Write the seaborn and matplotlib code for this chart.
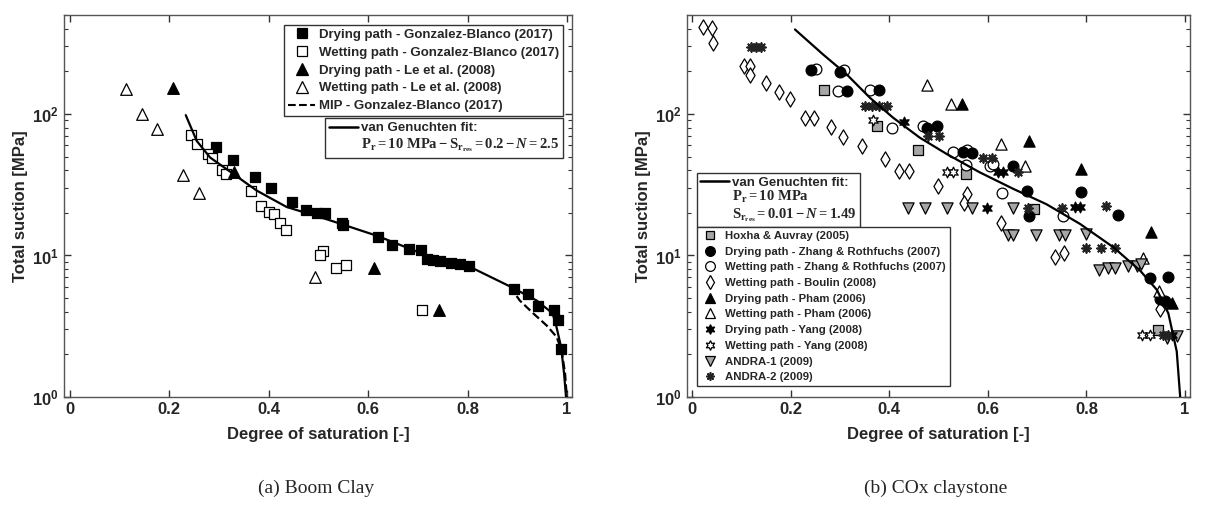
import numpy as np
import pandas as pd
import matplotlib
matplotlib.use("Agg")
import matplotlib.pyplot as plt
import matplotlib.ticker as mticker
import seaborn as sns
from matplotlib.lines import Line2D

# ---------------- (a) Boom Clay ----------------
gb_dry_sr = [0.294, 0.329, 0.372, 0.404, 0.447, 0.475, 0.498, 0.513, 0.547, 0.550, 0.620, 0.647, 0.683,
             0.706, 0.718, 0.731, 0.744, 0.767, 0.785, 0.803, 0.893, 0.921, 0.941, 0.974, 0.981, 0.988]
gb_dry_s = [58, 47, 35.6, 30, 23.7, 21.1, 20, 20, 17, 16.3, 13.5, 11.8, 11.1,
            11.0, 9.4, 9.3, 9.2, 8.9, 8.7, 8.4, 5.8, 5.3, 4.4, 4.1, 3.5, 2.2]
gb_wet_sr = [0.243, 0.255, 0.278, 0.285, 0.305, 0.314, 0.364, 0.384, 0.400, 0.411, 0.423, 0.435,
             0.510, 0.504, 0.535, 0.555, 0.709]
gb_wet_s = [70.8, 61.8, 52, 48.7, 40.3, 37.6, 28.7, 22.4, 20.3, 19.7, 17, 15.1, 10.8, 10, 8.1, 8.6, 4.1]
le_dry_sr = [0.208, 0.331, 0.612, 0.742]
le_dry_s = [153, 38.6, 8.1, 4.1]
le_wet_sr = [0.113, 0.144, 0.176, 0.227, 0.259, 0.492]
le_wet_s = [149, 99.5, 78, 37.2, 27.5, 7.0]
fit_a_sr = [0.233, 0.255, 0.282, 0.329, 0.376, 0.436, 0.517, 0.617, 0.718, 0.805, 0.885, 0.939,
            0.971, 0.979, 0.988, 0.994, 0.998]
fit_a_s = [98, 64.5, 49.2, 37.6, 28.7, 22.0, 18.0, 13.8, 10.0, 8.3, 6.05, 4.8, 3.9, 3.1, 2.26, 1.47, 1.0]
mip_sr = [0.885, 0.905, 0.932, 0.959, 0.979, 0.989, 0.996, 0.9995]
mip_s = [6.05, 4.8, 3.9, 3.2, 2.66, 2.14, 1.47, 1.0]

# ---------------- (b) COx claystone ----------------
hoxha_sr = [0.268, 0.375, 0.459, 0.555, 0.694, 0.946]
hoxha_s = [147, 81.5, 55.7, 37.6, 21.3, 2.96]
zhang_dry_sr = [0.241, 0.300, 0.314, 0.379, 0.477, 0.496, 0.549, 0.567, 0.652, 0.679, 0.684,
                0.789, 0.863, 0.929, 0.966, 0.949, 0.959]
zhang_dry_s = [204, 198, 145, 147, 79, 81.5, 54, 53, 42.6, 28.4, 19.1, 27.9, 19.4, 6.9, 7.0, 4.9, 4.8]
zhang_wet_sr = [0.252, 0.309, 0.296, 0.362, 0.405, 0.469, 0.529, 0.557, 0.556, 0.604, 0.611, 0.628, 0.753]
zhang_wet_s = [206, 203, 145, 147, 79, 82, 54, 55.5, 43.5, 42.6, 44, 27.6, 19.1]
boulin_sr = [0.023, 0.040, 0.043, 0.105, 0.118, 0.118, 0.151, 0.177, 0.199, 0.229, 0.248, 0.283,
             0.307, 0.344, 0.391, 0.420, 0.440, 0.498, 0.557, 0.551, 0.626, 0.736, 0.755, 0.949]
boulin_s = [410, 405, 318, 218, 218, 188, 166, 143, 127, 94, 94, 81,
            69, 59, 48, 39.7, 39.7, 30.8, 27.2, 23.5, 16.9, 9.7, 10.4, 4.2]
pham_dry_sr = [0.547, 0.684, 0.789, 0.930, 0.974]
pham_dry_s = [117, 64.5, 40.8, 14.6, 4.6]
pham_wet_sr = [0.477, 0.525, 0.627, 0.675, 0.914, 0.948]
pham_wet_s = [159, 117, 61.8, 43, 9.6, 5.6]
yang_dry_sr = [0.430, 0.598, 0.621, 0.631, 0.776, 0.787, 0.973]
yang_dry_s = [88, 21.7, 38.6, 38.6, 21.9, 21.9, 2.73]
yang_wet_sr = [0.368, 0.517, 0.530, 0.912, 0.929]
yang_wet_s = [90.7, 38.6, 38.6, 2.73, 2.73]
andra1_sr = [0.439, 0.473, 0.518, 0.567, 0.652, 0.640, 0.652, 0.697, 0.745, 0.757, 0.799,
             0.826, 0.844, 0.858, 0.885, 0.902, 0.910, 0.964, 0.983]
andra1_s = [21.5, 21.5, 21.5, 21.5, 21.5, 14, 14, 14, 14, 14, 14.2, 7.9, 8.1, 8.1, 8.4, 8.4, 8.7, 2.6, 2.7]
andra2_sr = [0.12, 0.13, 0.14, 0.35, 0.365, 0.38, 0.395, 0.479, 0.502, 0.590, 0.609, 0.662,
             0.681, 0.750, 0.840, 0.799, 0.829, 0.858, 0.956, 0.965]
andra2_s = [298, 298, 298, 114, 114, 114, 114, 70, 70, 48.7, 49, 38.6,
            21.7, 21.7, 22.2, 11.3, 11.3, 11.3, 2.73, 2.73]
fit_b_sr = [0.209, 0.266, 0.314, 0.361, 0.408, 0.462, 0.517, 0.584, 0.652, 0.719, 0.787, 0.855,
            0.909, 0.943, 0.966, 0.983, 0.990]
fit_b_s = [395, 263, 190, 130, 94, 68, 52, 38.6, 29.5, 23, 16.7, 11.4, 7.8, 5.7, 3.9, 2.1, 1.0]

# Styling
sns.set_theme(style="ticks")
plt.rcParams['font.family'] = ['Liberation Sans', 'DejaVu Sans']
plt.rcParams['font.weight'] = 'bold'
plt.rcParams['axes.labelweight'] = 'bold'
plt.rcParams['mathtext.fontset'] = 'custom'
plt.rcParams['mathtext.rm'] = 'Liberation Serif:bold'
plt.rcParams['mathtext.it'] = 'Liberation Serif:italic:bold'
plt.rcParams['mathtext.bf'] = 'Liberation Serif:bold'
plt.rcParams['mathtext.sf'] = 'Liberation Sans:bold'
plt.rcParams['mathtext.cal'] = 'Liberation Serif:italic:bold'

GREY = "#a6a6a6"
STAR6 = (6, 1, 0)
ASTER = (8, 2, 0)


def pts(ax, sr, s, marker, face, size, lw=0.9):
    kw = dict(x=sr, y=s, ax=ax, marker=marker, color=face, s=size, linewidth=lw, zorder=3, legend=False)
    if marker != ASTER:
        kw["edgecolor"] = "black"
    sns.scatterplot(**kw)


def curve(ax, sr, s, ls="-"):
    sns.lineplot(x=sr, y=s, ax=ax, sort=False, estimator=None, color="black", lw=1.6,
                 linestyle=ls, zorder=4, legend=False)


def style_axes(ax, xlo):
    ax.set_yscale("log")
    ax.set_xlim(xlo, 1.01)
    ax.set_ylim(1, 500)
    ax.set_xticks([0, 0.2, 0.4, 0.6, 0.8, 1])
    ax.set_xticklabels(["0", "0.2", "0.4", "0.6", "0.8", "1"])
    ax.set_yticks([1, 10, 100])
    ax.set_yticklabels([r"$\mathsf{10^{0}}$", r"$\mathsf{10^{1}}$", r"$\mathsf{10^{2}}$"])
    ax.yaxis.set_minor_locator(mticker.LogLocator(base=10, subs=np.arange(2, 10)))
    ax.yaxis.set_minor_formatter(mticker.NullFormatter())
    ax.tick_params(which="both", direction="in", top=True, right=True, labelsize=12,
                   color="#333333")
    ax.tick_params(which="major", length=5, width=1)
    ax.tick_params(which="minor", length=3, width=0.8)
    for sp in ax.spines.values():
        sp.set_color("#555555")
        sp.set_linewidth(1)
    ax.set_xlabel("Degree of saturation [-]", fontsize=12, fontweight="bold", labelpad=7)
    ax.set_ylabel("Total suction [MPa]", fontsize=12, fontweight="bold", labelpad=3)


def h(marker, face, ms):
    if marker == ASTER:
        return Line2D([], [], ls="", marker=marker, color=face, ms=ms, mew=1.2)
    return Line2D([], [], ls="", marker=marker, mfc=face, mec="black", ms=ms, mew=0.9)


fig = plt.figure(figsize=(12.28, 5.13), dpi=100)
ax1 = fig.add_axes([0.0521, 0.2261, 0.4137, 0.7447])
ax2 = fig.add_axes([0.5594, 0.2261, 0.4097, 0.7447])

# ---- panel (a)
curve(ax1, fit_a_sr, fit_a_s)
curve(ax1, mip_sr, mip_s, ls="--")
pts(ax1, gb_dry_sr, gb_dry_s, "s", "black", 50)
pts(ax1, gb_wet_sr, gb_wet_s, "s", "white", 50)
pts(ax1, le_dry_sr, le_dry_s, "^", "black", 70)
pts(ax1, le_wet_sr, le_wet_s, "^", "white", 70)
style_axes(ax1, -0.012)

leg1 = ax1.legend(
    handles=[h("s", "black", 7), h("s", "white", 7), h("^", "black", 8), h("^", "white", 8),
             Line2D([], [], color="black", ls="--", lw=1.5)],
    labels=["Drying path - Gonzalez-Blanco (2017)", "Wetting path - Gonzalez-Blanco (2017)",
            "Drying path - Le et al. (2008)", "Wetting path - Le et al. (2008)",
            "MIP - Gonzalez-Blanco (2017)"],
    loc="upper right", bbox_to_anchor=(0.982, 0.974), borderaxespad=0, fancybox=False,
    edgecolor="#333333", framealpha=1, handlelength=2.0, handletextpad=0.3,
    labelspacing=0.42, borderpad=0.3, prop={"weight": "bold", "size": 9.5})
leg1.get_frame().set_linewidth(1)
ax1.add_artist(leg1)
leg1b = ax1.legend(
    handles=[Line2D([], [], color="black", lw=1.8), Line2D([], [], ls="")],
    labels=["van Genuchten fit:",
            r"$\mathbf{P_r = 10\ MPa - S_{r_{res}} = 0.2 - }\mathcal{N}\mathbf{ = 2.5}$"],
    loc="upper right", bbox_to_anchor=(0.982, 0.730), borderaxespad=0, fancybox=False,
    edgecolor="#333333", framealpha=1, handlelength=2.2, handletextpad=0.2,
    labelspacing=0.15, borderpad=0.3, prop={"weight": "bold", "size": 9.5})
leg1b.get_frame().set_linewidth(1)
leg1b.get_texts()[1].set_fontsize(10.5)

# ---- panel (b)
curve(ax2, fit_b_sr, fit_b_s)
pts(ax2, boulin_sr, boulin_s, "d", "white", 60)
pts(ax2, hoxha_sr, hoxha_s, "s", GREY, 42)
pts(ax2, zhang_wet_sr, zhang_wet_s, "o", "white", 60)
pts(ax2, zhang_dry_sr, zhang_dry_s, "o", "black", 60)
pts(ax2, pham_wet_sr, pham_wet_s, "^", "white", 65)
pts(ax2, pham_dry_sr, pham_dry_s, "^", "black", 65)
pts(ax2, andra1_sr, andra1_s, "v", GREY, 65)
pts(ax2, yang_wet_sr, yang_wet_s, STAR6, "white", 60)
pts(ax2, yang_dry_sr, yang_dry_s, STAR6, "black", 60)
pts(ax2, andra2_sr, andra2_s, ASTER, "#222222", 40, lw=1.3)
style_axes(ax2, -0.010)

leg2a = ax2.legend(
    handles=[Line2D([], [], color="black", lw=1.8), Line2D([], [], ls=""), Line2D([], [], ls="")],
    labels=["van Genuchten fit:", r"$\mathbf{P_r = 10\ MPa}$",
            r"$\mathbf{S_{r_{res}} = 0.01 - }\mathcal{N}\mathbf{ = 1.49}$"],
    loc="upper left", bbox_to_anchor=(0.020, 0.586), borderaxespad=0, fancybox=False,
    edgecolor="#333333", framealpha=1, handlelength=2.2, handletextpad=0.2,
    labelspacing=0.05, borderpad=0.25, prop={"weight": "bold", "size": 9.5})
leg2a.get_frame().set_linewidth(1)
for t in leg2a.get_texts()[1:]:
    t.set_fontsize(10.5)
ax2.add_artist(leg2a)
leg2b = ax2.legend(
    handles=[h("s", GREY, 6), h("o", "black", 7), h("o", "white", 7), h("d", "white", 7),
             h("^", "black", 7), h("^", "white", 7), h(STAR6, "black", 7), h(STAR6, "white", 7),
             h("v", GREY, 7), h(ASTER, "#222222", 6)],
    labels=["Hoxha & Auvray (2005)", "Drying path - Zhang & Rothfuchs (2007)",
            "Wetting path - Zhang & Rothfuchs (2007)", "Wetting path - Boulin (2008)",
            "Drying path - Pham (2006)", "Wetting path - Pham (2006)",
            "Drying path - Yang (2008)", "Wetting path - Yang (2008)",
            "ANDRA-1 (2009)", "ANDRA-2 (2009)"],
    loc="upper left", bbox_to_anchor=(0.020, 0.445), borderaxespad=0, fancybox=False,
    edgecolor="#333333", framealpha=1, handlelength=1.6, handletextpad=0.5,
    labelspacing=0.5, borderpad=0.35, prop={"weight": "bold", "size": 8.2})
leg2b.get_frame().set_linewidth(1)

fig.text(316 / 1228, 1 - 488 / 513, "(a) Boom Clay", ha="center", va="center",
         family="Liberation Serif", fontweight="normal", fontsize=14)
fig.text(936 / 1228, 1 - 488 / 513, "(b) COx claystone", ha="center", va="center",
         family="Liberation Serif", fontweight="normal", fontsize=14)

plt.savefig("out.png", dpi=100)
plt.close(fig)
